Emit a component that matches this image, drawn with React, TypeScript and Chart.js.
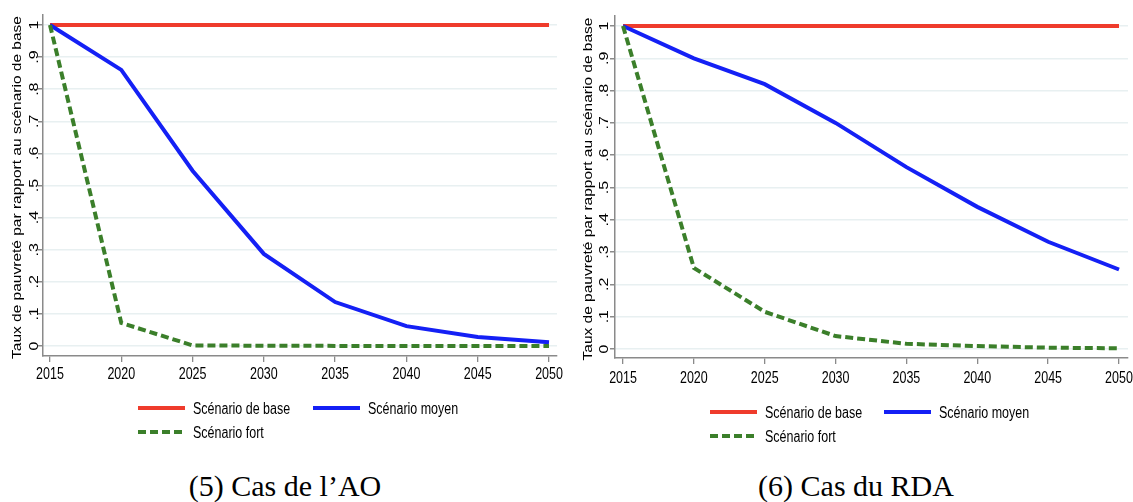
import React, { useEffect, useRef } from "react";
import { Chart, registerables } from "chart.js";

Chart.register(...registerables);

// ---------- data ----------
const years = [2015, 2020, 2025, 2030, 2035, 2040, 2045, 2050];
const xTickLabels = ["2015", "2020", "2025", "2030", "2035", "2040", "2045", "2050"];
const yTickValues = [0, 0.1, 0.2, 0.3, 0.4, 0.5, 0.6, 0.7, 0.8, 0.9, 1];
const yTickLabels = ["0", ".1", ".2", ".3", ".4", ".5", ".6", ".7", ".8", ".9", "1"];

const aoBase = [1, 1, 1, 1, 1, 1, 1, 1];
const aoMoyen = [1, 0.86, 0.546, 0.287, 0.137, 0.062, 0.028, 0.012];
const aoFort = [1, 0.072, 0.002, 0.001, 0.0005, 0.0003, 0.0002, 0.0001];

const rdaBase = [1, 1, 1, 1, 1, 1, 1, 1];
const rdaMoyen = [1, 0.9, 0.82, 0.7, 0.563, 0.44, 0.332, 0.246];
const rdaFort = [1, 0.251, 0.115, 0.04, 0.016, 0.009, 0.004, 0.002];

const seriesLabels = ["Scénario de base", "Scénario moyen", "Scénario fort"];
const yTitle = "Taux de pauvreté par rapport au scénario de base";
const captions = ["(5) Cas de l\u2019AO", "(6) Cas du RDA"];

// ---------- style ----------
const RED = "#ef3b2c";
const BLUE = "#1420f5";
const GREEN = "#3b7f2a";
const GRID = "#e8f0f1";
const AXIS = "#8a8a8a";
const FONT = '16px "Liberation Sans", Arial, Helvetica, sans-serif';
const TITLE_FONT = '15.5px "Liberation Sans", Arial, Helvetica, sans-serif';
const SQ = 0.78; // horizontal squeeze of the original graph text
const LW = 4;

type Cfg = {
  xMin: number;
  xMax: number;
  yMin: number;
  yMax: number;
  padTop: number;
  padRight: number;
  padBottom: number;
  yWidth: number;
  xHeight: number;
  yLabelX: number;
  titleX: number;
  xLabelY: number;
  legRow1: number;
  legRow2: number;
  legX1: number;
  legX2: number;
  base: number[];
  moyen: number[];
  fort: number[];
};

const textPlugin = {
  id: "stataText",
  afterDraw(chart: any, _args: any, opts: any) {
    const ctx: CanvasRenderingContext2D = chart.ctx;
    const xs = chart.scales.x;
    const ys = chart.scales.y;
    const area = chart.chartArea;
    ctx.save();
    ctx.fillStyle = "#000";
    ctx.font = FONT;
    ctx.textBaseline = "alphabetic";

    // x tick labels
    ctx.textAlign = "center";
    years.forEach((yr, i) => {
      const px = xs.getPixelForValue(yr);
      ctx.save();
      ctx.translate(px, opts.xLabelY);
      ctx.scale(SQ, 1);
      ctx.fillText(xTickLabels[i], 0, 0);
      ctx.restore();
    });

    // y tick labels (rotated)
    yTickValues.forEach((v, i) => {
      const py = ys.getPixelForValue(v);
      ctx.save();
      ctx.translate(opts.yLabelX, py);
      ctx.rotate(-Math.PI / 2);
      ctx.scale(1, SQ);
      ctx.fillText(yTickLabels[i], 0, 0);
      ctx.restore();
    });

    // y title
    ctx.save();
    ctx.font = TITLE_FONT;
    ctx.translate(opts.titleX, (area.top + area.bottom) / 2 + 2);
    ctx.rotate(-Math.PI / 2);
    ctx.scale(1, SQ);
    ctx.fillText(yTitle, 0, 0);
    ctx.restore();

    // legend
    const drawItem = (x: number, y: number, color: string, dash: number[], label: string) => {
      ctx.save();
      ctx.strokeStyle = color;
      ctx.lineWidth = LW;
      ctx.setLineDash(dash);
      ctx.beginPath();
      ctx.moveTo(x, y);
      ctx.lineTo(x + 47, y);
      ctx.stroke();
      ctx.restore();
      ctx.save();
      ctx.textAlign = "left";
      ctx.translate(x + 55, y + 6);
      ctx.scale(SQ, 1);
      ctx.fillText(label, 0, 0);
      ctx.restore();
    };
    drawItem(opts.legX1, opts.legRow1, RED, [], seriesLabels[0]);
    drawItem(opts.legX2, opts.legRow1, BLUE, [], seriesLabels[1]);
    drawItem(opts.legX1, opts.legRow2, GREEN, [8, 4], seriesLabels[2]);

    ctx.restore();
  },
};

function makeChart(canvas: HTMLCanvasElement, cfg: Cfg) {
  return new Chart(canvas, {
    type: "line",
    data: {
      datasets: [
        {
          label: seriesLabels[2],
          data: years.map((x, i) => ({ x, y: cfg.fort[i] })),
          borderColor: GREEN,
          borderWidth: LW,
          borderDash: [8, 4],
          pointRadius: 0,
          tension: 0,
          order: 0,
        },
        {
          label: seriesLabels[1],
          data: years.map((x, i) => ({ x, y: cfg.moyen[i] })),
          borderColor: BLUE,
          borderWidth: LW,
          pointRadius: 0,
          tension: 0,
          order: 1,
        },
        {
          label: seriesLabels[0],
          data: years.map((x, i) => ({ x, y: cfg.base[i] })),
          borderColor: RED,
          borderWidth: LW,
          pointRadius: 0,
          tension: 0,
          order: 2,
        },
      ],
    },
    options: {
      animation: false,
      responsive: false,
      devicePixelRatio: 1,
      layout: {
        autoPadding: false,
        padding: { top: cfg.padTop, right: cfg.padRight, bottom: cfg.padBottom, left: 0 },
      },
      plugins: {
        legend: { display: false },
        tooltip: { enabled: false },
        title: { display: false },
        stataText: cfg,
      } as any,
      scales: {
        x: {
          type: "linear",
          min: cfg.xMin,
          max: cfg.xMax,
          afterBuildTicks: (scale: any) => {
            scale.ticks = years.map((v) => ({ value: v }));
          },
          afterFit: (scale: any) => {
            scale.height = cfg.xHeight;
          },
          ticks: { display: false },
          grid: {
            drawOnChartArea: false,
            drawTicks: true,
            tickLength: 6,
            tickColor: AXIS,
            lineWidth: 1.3,
          },
          border: { display: true, color: AXIS, width: 1.5 },
        },
        y: {
          type: "linear",
          min: cfg.yMin,
          max: cfg.yMax,
          afterBuildTicks: (scale: any) => {
            scale.ticks = yTickValues.map((v) => ({ value: v }));
          },
          afterFit: (scale: any) => {
            scale.width = cfg.yWidth;
          },
          ticks: { display: false },
          grid: {
            drawOnChartArea: true,
            drawTicks: true,
            tickLength: 5,
            color: GRID,
            tickColor: AXIS,
            lineWidth: 1.5,
          },
          border: { display: true, color: AXIS, width: 1.5 },
        },
      },
    },
    plugins: [textPlugin as any],
  });
}

const leftCfg: Cfg = {
  xMin: 2014.51,
  xMax: 2050.56,
  yMin: -0.031,
  yMax: 1.031,
  padTop: 15,
  padRight: 9,
  padBottom: 64,
  yWidth: 43,
  xHeight: 30,
  yLabelX: 37.5,
  titleX: 20.5,
  xLabelY: 379,
  legRow1: 408,
  legRow2: 432,
  legX1: 138,
  legX2: 313,
  base: aoBase,
  moyen: aoMoyen,
  fort: aoFort,
};

const rightCfg: Cfg = {
  xMin: 2014.435,
  xMax: 2050.635,
  yMin: -0.028,
  yMax: 1.031,
  padTop: 16,
  padRight: 5,
  padBottom: 62,
  yWidth: 49,
  xHeight: 30,
  yLabelX: 41.5,
  titleX: 26,
  xLabelY: 382.5,
  legRow1: 412,
  legRow2: 436,
  legX1: 144,
  legX2: 318,
  base: rdaBase,
  moyen: rdaMoyen,
  fort: rdaFort,
};

function Panel({ cfg, left, width, caption, captionCenter }: { cfg: Cfg; left: number; width: number; caption: string; captionCenter: number }) {
  const ref = useRef<HTMLCanvasElement | null>(null);
  useEffect(() => {
    if (!ref.current) return;
    const ch = makeChart(ref.current, cfg);
    return () => ch.destroy();
  }, [cfg]);
  return (
    <>
      <canvas
        ref={ref}
        width={width}
        height={450}
        style={{ position: "absolute", left, top: 0, width, height: 450 }}
      />
      <div
        style={{
          position: "absolute",
          left: captionCenter - 200,
          width: 400,
          top: 471,
          textAlign: "center",
          fontFamily: '"Liberation Serif", "Times New Roman", serif',
          fontSize: 30,
          lineHeight: "30px",
          color: "#000",
          whiteSpace: "nowrap",
        }}
      >
        {caption}
      </div>
    </>
  );
}

export default function App() {
  return (
    <div
      style={{
        position: "fixed",
        left: 0,
        top: 0,
        width: 1133,
        height: 502,
        background: "#fff",
        overflow: "hidden",
      }}
    >
      <Panel cfg={leftCfg} left={0} width={566} caption={captions[0]} captionCenter={285} />
      <Panel cfg={rightCfg} left={566} width={567} caption={captions[1]} captionCenter={856} />
    </div>
  );
}
